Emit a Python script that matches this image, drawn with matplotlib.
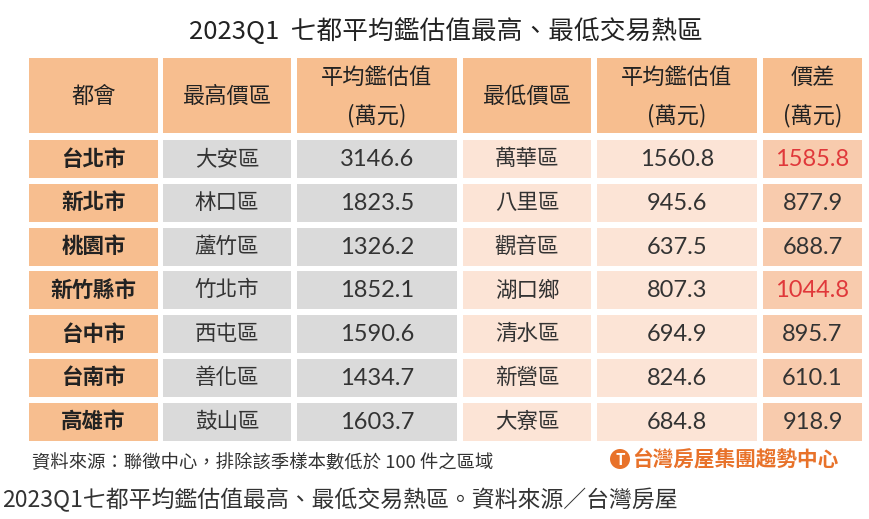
import matplotlib
matplotlib.use("Agg")
import matplotlib.pyplot as plt
from matplotlib.patches import Rectangle, Circle

plt.rcParams['font.family'] = ['Noto Sans CJK TC', 'DejaVu Sans']

title = "2023Q1  七都平均鑑估值最高、最低交易熱區"
headers = ["都會", "最高價區", "平均鑑估值\n(萬元)", "最低價區", "平均鑑估值\n(萬元)", "價差\n(萬元)"]
cities = ["台北市", "新北市", "桃園市", "新竹縣市", "台中市", "台南市", "高雄市"]
high_dist = ["大安區", "林口區", "蘆竹區", "竹北市", "西屯區", "善化區", "鼓山區"]
high_val = [3146.6, 1823.5, 1326.2, 1852.1, 1590.6, 1434.7, 1603.7]
low_dist = ["萬華區", "八里區", "觀音區", "湖口鄉", "清水區", "新營區", "大寮區"]
low_val = [1560.8, 945.6, 637.5, 807.3, 694.9, 824.6, 684.8]
diff_val = [1585.8, 877.9, 688.7, 1044.8, 895.7, 610.1, 918.9]
red_rows = ["台北市", "新竹縣市"]
note = "資料來源：聯徵中心，排除該季樣本數低於 100 件之區域"
logo = "台灣房屋集團趨勢中心"
caption = "2023Q1七都平均鑑估值最高、最低交易熱區。資料來源／台灣房屋"

# layout in pixels
W, H = 869, 519
col_x = [(29, 158), (163, 291), (297, 457), (463, 591), (597, 757), (763, 862)]
head_y = (58, 133)
row_top0, row_pitch, row_h = 140, 43.8, 38
peach = "#F7BE8F"
col_bg = [peach, "#DADADA", "#DADADA", "#FCE4D6", "#FCE4D6", "#F8CBAD"]
txt = "#333333"

fig = plt.figure(figsize=(W / 100, H / 100), dpi=100)
ax = fig.add_axes([0, 0, 1, 1])
ax.set_xlim(0, W)
ax.set_ylim(H, 0)
ax.axis("off")

ax.text(446, 32, title, ha="center", va="center", fontsize=18.5, color="#222222", fontweight="medium")

# header
for (x0, x1), h in zip(col_x, headers):
    ax.add_patch(Rectangle((x0, head_y[0]), x1 - x0, head_y[1] - head_y[0], color=peach, lw=0))
    cx = (x0 + x1) / 2
    lines = h.split("\n")
    if len(lines) == 1:
        ax.text(cx, 96, lines[0], ha="center", va="center", fontsize=16, color="#222222", fontweight="medium")
    else:
        ax.text(cx, 77, lines[0], ha="center", va="center", fontsize=16, color="#222222", fontweight="medium")
        ax.text(cx, 116, lines[1], ha="center", va="center", fontsize=16, color="#222222", fontweight="medium")

# rows
for i, city in enumerate(cities):
    y0 = row_top0 + i * row_pitch
    cy = y0 + row_h / 2
    vals = [city, high_dist[i], f"{high_val[i]:.1f}", low_dist[i], f"{low_val[i]:.1f}", f"{diff_val[i]:.1f}"]
    for j, ((x0, x1), v) in enumerate(zip(col_x, vals)):
        ax.add_patch(Rectangle((x0, y0), x1 - x0, row_h, color=col_bg[j], lw=0))
        cx = (x0 + x1) / 2
        if j == 0:
            ax.text(cx, cy, v, ha="center", va="center", fontsize=15.5, color="#222222", fontweight="bold")
        elif j in (2, 4, 5):
            c = "#E0383A" if (j == 5 and city in red_rows) else txt
            ax.text(cx, cy + 0.5, v, ha="center", va="center", fontsize=17, color=c, family=["Lato", "DejaVu Sans"])
        else:
            ax.text(cx, cy, v, ha="center", va="center", fontsize=15.5, color=txt)

ax.text(32, 463, note, ha="left", va="center", fontsize=13.2, color=txt)

# logo
ax.add_patch(Circle((620, 459), 10, color="#E8722A", lw=0))
ax.text(620, 460, "T", ha="center", va="center", fontsize=11, color="white", fontweight="bold")
ax.text(632, 459, logo, ha="left", va="center", fontsize=14.9, color="#E8722A", fontweight="heavy")

ax.text(2, 500, caption, ha="left", va="center", fontsize=16.5, color=txt)

fig.savefig("out.png", dpi=100)
